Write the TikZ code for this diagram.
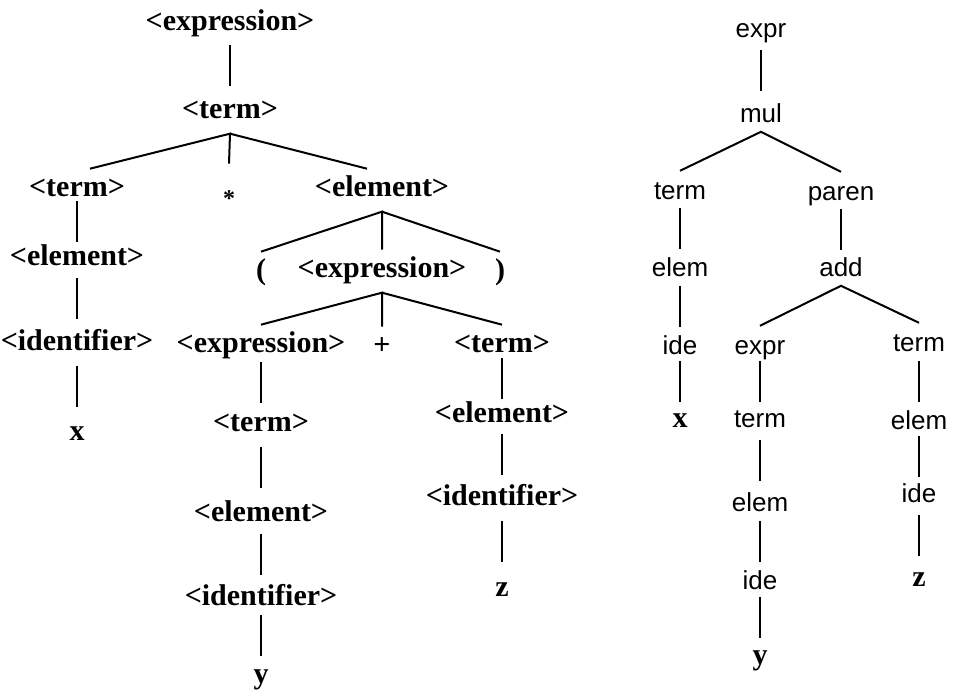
\documentclass[tikz,border=0pt]{standalone}
\usepackage{fontspec}
\setmainfont{Liberation Serif}
\setsansfont{Liberation Sans}
\usetikzlibrary{calc}

\tikzset{
  bnf/.style={font=\bfseries\fontsize{15}{18}\selectfont, inner sep=0pt,
    text height=13.45pt, text depth=7.05pt, anchor=mid, yshift=-2.5pt},
  ast/.style={font=\sffamily\fontsize{13}{16}\selectfont, inner sep=0pt,
    text height=13.9pt, text depth=4.1pt, anchor=mid, yshift=-2.5pt},
  stem/.style={to path={($(\tikztostart.mid)!.5!(\tikztotarget.mid)+(0,-25)$) -- ++(0,41)}},
}

\begin{document}
\begin{tikzpicture}[x=0.5pt, y=-0.5pt, line width=1pt]
    \useasboundingbox (0,0) rectangle (953,694);

    % --- PARSE TREE (LEFT) ---
    \node[bnf] (e0) at (230,21) {<expression>};
    \node[bnf] (t0) at (230,109) {<term>};
    \node[bnf] (t1) at (77,187) {<term>};
    \node[bnf] (star) at (229,187) {\fontsize{12}{14}\selectfont\raisebox{-5pt}{*}};
    \node[bnf] (el1) at (382,187) {<element>};
    \node[bnf] (el2) at (77,256) {<element>};
    \node[bnf] (id1) at (77,341) {<identifier>};
    \node[bnf] (xl) at (77,431) {x};

    \node[bnf] (lp) at (261,270) {(};
    \node[bnf] (e1) at (382,268) {<expression>};
    \node[bnf] (rp) at (500,270) {)};

    \node[bnf] (e2) at (261,343) {<expression>};
    \node[bnf] (plus) at (382,345) {+};
    \node[bnf] (t2) at (502,343) {<term>};

    \node[bnf] (t3) at (261,422) {<term>};
    \node[bnf] (el3) at (261,512) {<element>};
    \node[bnf] (id2) at (261,596) {<identifier>};
    \node[bnf] (yl) at (261,674) {y};

    \node[bnf] (el4) at (502,413) {<element>};
    \node[bnf] (id3) at (502,496) {<identifier>};
    \node[bnf] (zl) at (502,587) {z};

    % Edges
    \draw ([xshift=6.5pt]t1.north) -- (t0.south) -- ([yshift=2.5pt]star.north);
    \draw (t0.south) -- ([xshift=-7.5pt]el1.north);
    \draw (lp.north) -- (el1.south) -- (e1.north);
    \draw (el1.south) -- (rp.north);
    \draw (e2.north) -- (e1.south) -- (plus.north);
    \draw (e1.south) -- (t2.north);
    \foreach \a/\b in {e0/t0, t1/el2, el2/id1, id1/xl, e2/t3, t3/el3, el3/id2,
                       id2/yl, t2/el4, el4/id3, id3/zl}
        \draw (\a) to[stem] (\b);

    % --- ABSTRACT TREE (RIGHT) ---
    \node[ast] (r0) at (761,28) {expr};
    \node[ast] (mul) at (761,113) {mul};
    \node[ast] (rt) at (680,190) {term};
    \node[ast] (par) at (841,191) {paren};
    \node[ast] (re) at (680,267) {elem};
    \node[ast] (add) at (841,267) {add};
    \node[ast] (ri) at (680,345) {ide};
    \node[bnf] (rx) at (680,418) {x};

    \node[ast] (rex) at (760,345) {expr};
    \node[ast] (rtt) at (760,418) {term};
    \node[ast] (rel) at (760,502) {elem};
    \node[ast] (rid) at (760,580) {ide};
    \node[bnf] (ry) at (760,655) {y};

    \node[ast] (rt2) at (919,342) {term};
    \node[ast] (rel2) at (919,420) {elem};
    \node[ast] (rid2) at (919,493) {ide};
    \node[bnf] (rz) at (919,577) {z};

    % Edges
    \draw (rt.north) -- (mul.south) -- (par.north);
    \draw (rex.north) -- (add.south) -- (rt2.north);
    \foreach \a/\b in {r0/mul, rt/re, re/ri, ri/rx, par/add, rex/rtt, rtt/rel,
                       rel/rid, rid/ry, rt2/rel2, rel2/rid2, rid2/rz}
        \draw (\a) to[stem] (\b);
\end{tikzpicture}
\end{document}
